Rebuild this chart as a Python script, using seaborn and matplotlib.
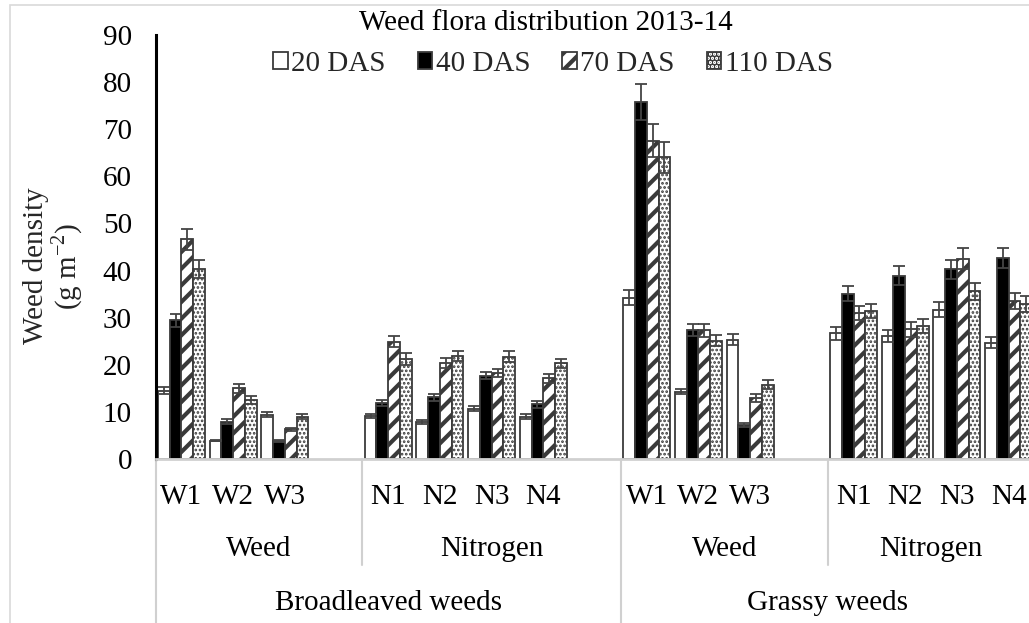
import numpy as np
import pandas as pd
import matplotlib
matplotlib.use("Agg")
import matplotlib.pyplot as plt
import matplotlib.transforms as mtransforms
from matplotlib.patches import Rectangle
import seaborn as sns

# ---------------- data ----------------
slots = ["BW1", "BW2", "BW3", "gapA", "BN1", "BN2", "BN3", "BN4", "gapB",
         "GW1", "GW2", "GW3", "gapC", "GN1", "GN2", "GN3", "GN4"]
categories = ["BW1", "BW2", "BW3", "BN1", "BN2", "BN3", "BN4",
              "GW1", "GW2", "GW3", "GN1", "GN2", "GN3", "GN4"]
level1_labels = ["W1", "W2", "W3", "N1", "N2", "N3", "N4",
                 "W1", "W2", "W3", "N1", "N2", "N3", "N4"]
level2_labels = ["Weed", "Nitrogen", "Weed", "Nitrogen"]
level3_labels = ["Broadleaved weeds", "Grassy weeds"]
series = ["20 DAS", "40 DAS", "70 DAS", "110 DAS"]

das20 = [14.5, 3.9, 9.4, 9.1, 7.8, 10.7, 9.0, 34.2, 14.3, 25.3, 26.7, 26.1, 31.7, 24.7]
das40 = [29.4, 7.9, 3.9, 11.9, 13.1, 17.7, 11.6, 75.8, 27.4, 7.2, 35.1, 38.9, 40.3, 42.7]
das70 = [46.6, 15.0, 6.3, 24.9, 20.4, 18.3, 17.1, 67.6, 27.3, 13.0, 31.0, 27.5, 42.5, 33.5]
das110 = [40.3, 12.5, 9.0, 21.2, 21.9, 21.7, 20.3, 64.0, 25.1, 15.8, 31.4, 28.2, 35.6, 32.9]

se20 = [0.7, 0.1, 0.5, 0.5, 0.4, 0.5, 0.5, 1.6, 0.6, 1.2, 1.4, 1.3, 1.6, 1.2]
se40 = [1.4, 0.5, 0.2, 0.7, 0.7, 0.8, 0.7, 3.8, 1.3, 0.4, 1.6, 2.0, 2.0, 2.1]
se70 = [2.2, 0.9, 0.3, 1.2, 1.0, 0.8, 1.0, 3.5, 1.3, 0.8, 1.5, 1.5, 2.2, 1.7]
se110 = [1.9, 0.8, 0.6, 1.2, 1.1, 1.2, 0.9, 3.2, 1.2, 0.9, 1.5, 1.5, 1.8, 1.6]

yticks = [0, 10, 20, 30, 40, 50, 60, 70, 80, 90]

# ---------------- style ----------------
sns.set_theme(style="white")
plt.rcParams["font.family"] = ["Liberation Serif", "DejaVu Serif"]
plt.rcParams["mathtext.fontset"] = "custom"
plt.rcParams["mathtext.rm"] = "Liberation Serif"
plt.rcParams["hatch.linewidth"] = 3.0
FS = 21

rows = []
for s, vals, errs in zip(series, [das20, das40, das70, das110], [se20, se40, se70, se110]):
    for c, v, e in zip(categories, vals, errs):
        rows.append({"cat": c, "das": s, "value": v, "se": e})
df = pd.DataFrame(rows)

fig = plt.figure(figsize=(10.29, 6.23), dpi=100)
W, H = 1029, 623
x0_px, base_px, top_px = 155.6, 459.0, 35.0
cat_w = 51.7
ax = fig.add_axes([x0_px / W, 1 - base_px / H, 17 * cat_w / W, (base_px - top_px) / H])

sns.barplot(data=df, x="cat", y="value", hue="das", order=slots, hue_order=series,
            errorbar=None, width=0.91, gap=0, legend=False, ax=ax)

styles = [
    dict(fc="white", hatch=None),
    dict(fc="black", hatch=None),
    dict(fc="white", hatch="//"),
    dict(fc="white", hatch="...."),
]
err_lookup = {(r.cat, r.das): r.se for r in df.itertuples()}
for cont, s, st in zip(ax.containers, series, styles):
    xs, ys, es = [], [], []
    for bar in cont:
        bar.set_facecolor(st["fc"])
        bar.set_edgecolor("#3a3a3a")
        bar.set_linewidth(1.3)
        if st["hatch"]:
            bar.set_hatch(st["hatch"])
            if hasattr(bar, "set_hatch_linewidth"):
                bar.set_hatch_linewidth(3.0 if s == "70 DAS" else 1.3)
        cx = bar.get_x() + bar.get_width() / 2
        idx = int(round(cx))
        cat = slots[idx]
        xs.append(cx)
        ys.append(bar.get_height())
        es.append(err_lookup[(cat, s)])
    ax.errorbar(xs, ys, yerr=es, fmt="none", ecolor="#444444", elinewidth=1.3,
                capsize=4, capthick=1.3, zorder=5)

ax.set_xlim(-0.5, 16.5)
ax.set_ylim(0, 90)
ax.set_yticks(yticks)
ax.set_yticklabels([str(t) for t in yticks], fontsize=FS, color="black")
ax.tick_params(axis="y", length=0, pad=17)
ax.set_xticks([])
ax.set_xlabel("")
ax.set_ylabel("")
for sp in ["top", "right"]:
    ax.spines[sp].set_visible(False)
ax.spines["left"].set_color("black")
ax.spines["left"].set_linewidth(2.2)
ax.spines["bottom"].set_color("#d0d0d0")
ax.spines["bottom"].set_linewidth(2.0)
ax.grid(False)

# multi-level category axis
trans = mtransforms.blended_transform_factory(ax.transData, ax.transAxes)
hpx = base_px - top_px
y1 = -(497 - base_px) / hpx
y2 = -(549 - base_px) / hpx
y3 = -(603 - base_px) / hpx
for c, lab in zip(categories, level1_labels):
    ax.text(slots.index(c), y1, lab, transform=trans, ha="center", va="center",
            fontsize=FS, color="black")
sec2 = [(-0.5, 3.5), (3.5, 8.5), (8.5, 12.5), (12.5, 16.5)]
for (a, b), lab in zip(sec2, level2_labels):
    ax.text((a + b) / 2, y2, lab, transform=trans, ha="center", va="center",
            fontsize=FS, color="black")
sec3 = [(-0.5, 8.5), (8.5, 16.5)]
for (a, b), lab in zip(sec3, level3_labels):
    ax.text((a + b) / 2, y3, lab, transform=trans, ha="center", va="center",
            fontsize=FS, color="black")
short_end = -(565 - base_px) / hpx
long_end = -(623 - base_px) / hpx
for xv in [3.5, 12.5]:
    ax.plot([xv, xv], [0, short_end], transform=trans, color="#d0d0d0", lw=1.5, clip_on=False)
for xv in [-0.5, 8.5, 16.5]:
    ax.plot([xv, xv], [0, long_end], transform=trans, color="#d0d0d0", lw=1.5, clip_on=False)

# y label
fig.text(54 / W, 1 - 266 / H, "Weed density\n(g m$^{\\mathregular{-2}}$)", rotation=90,
         ha="center", va="center", fontsize=FS, multialignment="center", linespacing=1.05)

# title and legend
fig.text(546 / W, 1 - 23 / H, "Weed flora distribution 2013-14", ha="center", va="center",
         fontsize=FS, color="black")
fig.legend(handles=list(ax.containers), labels=series, loc="center",
           bbox_to_anchor=(553 / W, 1 - 64 / H), ncol=4, frameon=False, fontsize=FS,
           handlelength=0.5, handleheight=0.5, handletextpad=0.12, columnspacing=1.1,
           borderpad=0)

# chart-area border
fig.patches.append(Rectangle((10 / W, -0.1), 1.2, 1.1 - 5 / H, transform=fig.transFigure,
                             fill=False, edgecolor="#d9d9d9", linewidth=1.2, zorder=-1))

fig.savefig("out.png", dpi=100)
